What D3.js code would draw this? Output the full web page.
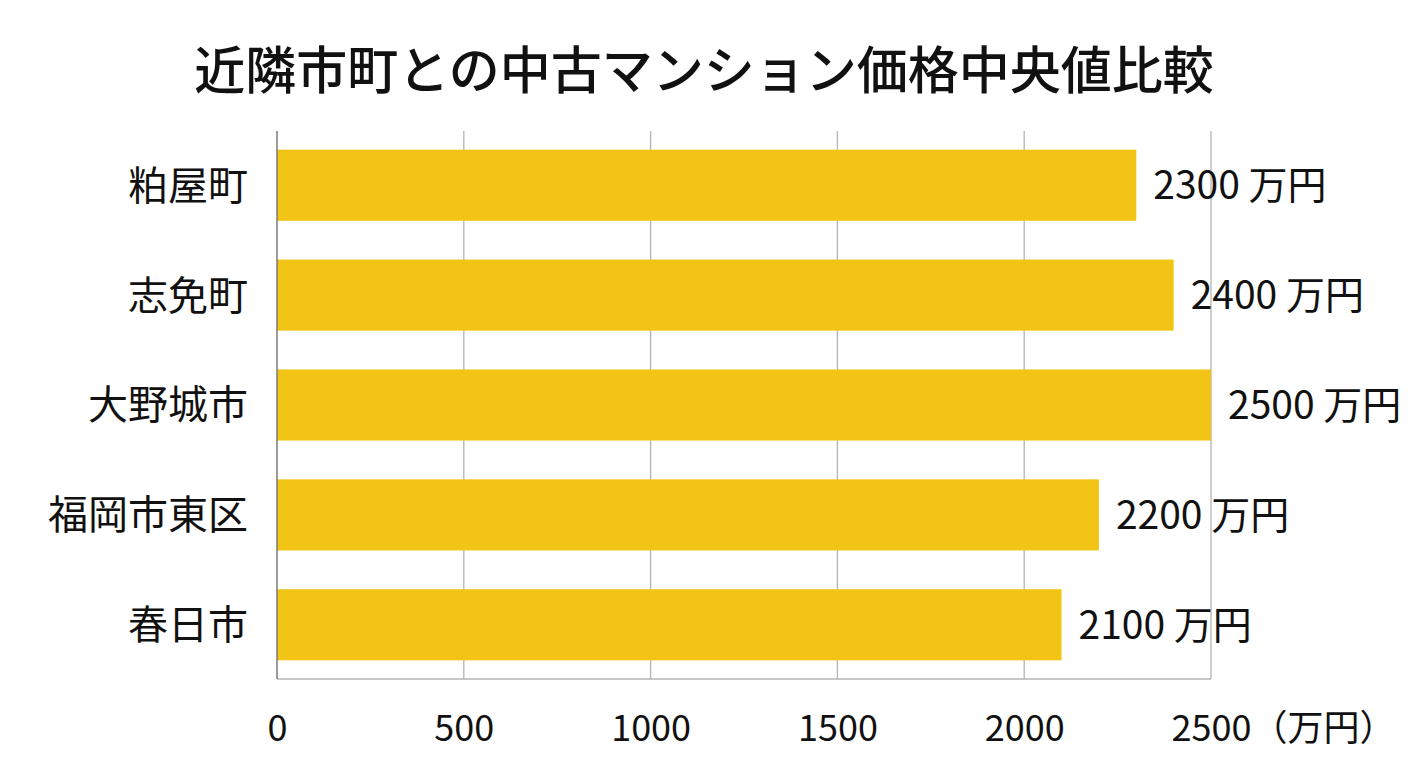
<!DOCTYPE html>
<html lang="ja">
	<head>
		<meta charset="utf-8">
		<title>近隣市町との中古マンション価格中央値比較</title>
		<style type="text/css">
			body {
				margin: 0;
				background: #ffffff;
			}
			svg text {
				font-family: "Noto Sans CJK JP", "Noto Sans", sans-serif;
				fill: #111111;
			}
		</style>
		<script type="text/javascript" src="https://cdn.jsdelivr.net/npm/d3@7/dist/d3.min.js"></script>
	</head>
	<body>
		<script type="text/javascript">
			//Data
			var categories = ["粕屋町", "志免町", "大野城市", "福岡市東区", "春日市"];
			var prices = [2300, 2400, 2500, 2200, 2100];
			var tickValues = [0, 500, 1000, 1500, 2000, 2500];
			var unit = "万円";

			//Size and plot edges
			var w = 1408;
			var h = 768;
			var plotLeft = 277, plotRight = 1211, plotTop = 131, plotBottom = 679;

			var svg = d3.select("body")
						.append("svg")
						.attr("width", w)
						.attr("height", h);

			//Scales
			var xScale = d3.scaleLinear()
						   .domain([0, 2500])
						   .range([plotLeft, plotRight]);
			var yScale = d3.scaleBand()
						   .domain(categories)
						   .range([plotTop, plotBottom])
						   .paddingInner(0.353)
						   .paddingOuter(0.17);

			//Title
			svg.append("text")
			   .attr("x", 704)
			   .attr("y", 89)
			   .attr("text-anchor", "middle")
			   .attr("font-size", "51px")
			   .attr("font-weight", 500)
			   .text("近隣市町との中古マンション価格中央値比較");

			//Gridlines
			svg.selectAll("line.grid")
			   .data(tickValues.slice(1))
			   .enter()
			   .append("line")
			   .attr("class", "grid")
			   .attr("x1", function(d) { return xScale(d); })
			   .attr("x2", function(d) { return xScale(d); })
			   .attr("y1", plotTop)
			   .attr("y2", plotBottom)
			   .attr("stroke", "#b4b4b4")
			   .attr("stroke-width", 1.3);

			//Bottom line
			svg.append("line")
			   .attr("x1", plotLeft)
			   .attr("x2", plotRight)
			   .attr("y1", plotBottom)
			   .attr("y2", plotBottom)
			   .attr("stroke", "#b4b4b4")
			   .attr("stroke-width", 1.3);

			//Bars
			svg.selectAll("rect.bar")
			   .data(prices)
			   .enter()
			   .append("rect")
			   .attr("class", "bar")
			   .attr("x", xScale(0))
			   .attr("y", function(d, i) { return yScale(categories[i]); })
			   .attr("width", function(d) { return xScale(d) - xScale(0); })
			   .attr("height", yScale.bandwidth())
			   .attr("fill", "#f2c416");

			//Left axis line
			svg.append("line")
			   .attr("x1", plotLeft)
			   .attr("x2", plotLeft)
			   .attr("y1", plotTop)
			   .attr("y2", plotBottom)
			   .attr("stroke", "#7a7a7a")
			   .attr("stroke-width", 1.5);

			//Value labels
			svg.selectAll("text.value")
			   .data(prices)
			   .enter()
			   .append("text")
			   .attr("class", "value")
			   .attr("x", function(d) { return xScale(d) + 17; })
			   .attr("y", function(d, i) { return yScale(categories[i]) + yScale.bandwidth() / 2; })
			   .attr("dy", "0.36em")
			   .attr("font-size", "39px")
			   .text(function(d) { return d + " " + unit; });

			//Category labels
			var yAxis = d3.axisLeft(yScale).tickSize(0).tickPadding(29);
			var yG = svg.append("g")
						.attr("transform", "translate(" + plotLeft + ",0)")
						.call(yAxis);
			yG.select(".domain").remove();
			yG.selectAll("text")
			  .attr("font-size", "40px")
			  .attr("dy", "0.36em");
			yG.attr("font-family", null);

			//X axis tick labels
			var xAxis = d3.axisBottom(xScale)
						  .tickValues(tickValues)
						  .tickFormat(d3.format("d"))
						  .tickSize(0)
						  .tickPadding(36);
			var xG = svg.append("g")
						.attr("transform", "translate(0," + plotBottom + ")")
						.call(xAxis);
			xG.select(".domain").remove();
			xG.selectAll("text")
			  .attr("font-size", "36px");
			xG.attr("font-family", null);

			//Unit after last tick
			var lastTick = xG.selectAll("text").filter(function(d) { return d === 2500; });
			var lastW = lastTick.node().getComputedTextLength();
			lastTick.attr("text-anchor", "start")
					.attr("x", -lastW / 2)
					.append("tspan")
					.text("（" + unit + "）");
		</script>
	</body>
</html>
